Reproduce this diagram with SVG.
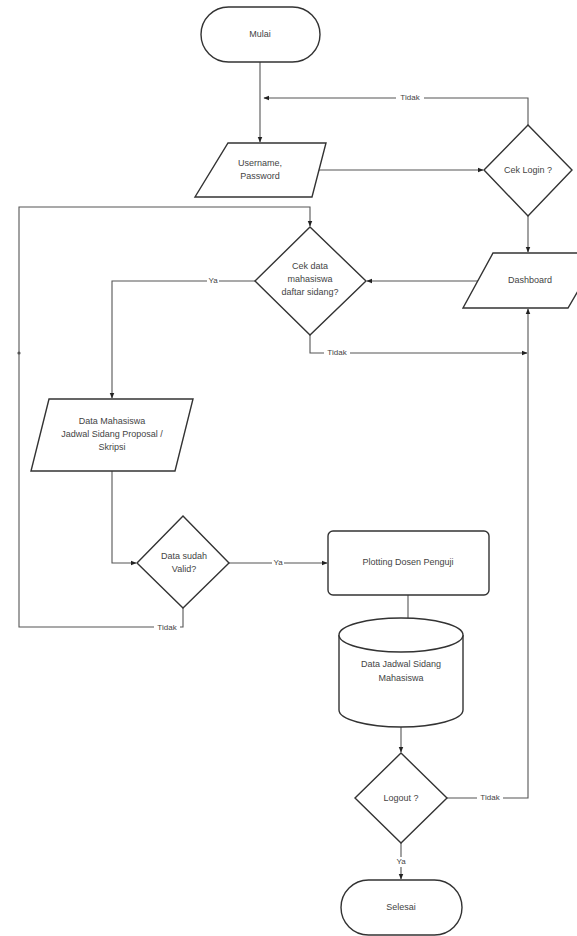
<svg xmlns="http://www.w3.org/2000/svg" width="577" height="936" viewBox="0 0 577 936">
<defs>
<marker id="arr" viewBox="0 0 10 10" refX="9" refY="5" markerWidth="6" markerHeight="6" orient="auto" markerUnits="userSpaceOnUse">
<path d="M0,1 L10,5 L0,9 Z" fill="#222"/>
</marker>
<style>
.shape{fill:#fff;stroke:#333;stroke-width:1.4}
.t{font-family:"Liberation Sans",Arial,sans-serif;font-size:9px;fill:#444;text-anchor:middle;dominant-baseline:middle}
.c{fill:none;stroke:#555;stroke-width:1.1}
.lbl{font-family:"Liberation Sans",Arial,sans-serif;font-size:8px;fill:#444;text-anchor:middle;dominant-baseline:middle}
.bg{fill:#fff}
</style>
</defs>
<rect width="577" height="936" fill="#fff"/>

<g id="connectors">
<path class="c" d="M260,62 V142" marker-end="url(#arr)"/>
<path class="c" d="M318,170 H483" marker-end="url(#arr)"/>
<path class="c" d="M528,125 V98 H264" marker-end="url(#arr)"/>
<path class="c" d="M528,216 V252" marker-end="url(#arr)"/>
<path class="c" d="M478,281 H367" marker-end="url(#arr)"/>
<path class="c" d="M255,281 H112 V398" marker-end="url(#arr)"/>
<path class="c" d="M310,335 V353 H527" marker-end="url(#arr)"/>
<path class="c" d="M112,471 V563 H136" marker-end="url(#arr)"/>
<path class="c" d="M229,563 H327" marker-end="url(#arr)"/>
<path class="c" d="M183,608 V627 H19 V207 H310 V226" marker-end="url(#arr)"/>
<path class="c" d="M408,595 V618"/>
<path class="c" d="M401,727 V752" marker-end="url(#arr)"/>
<path class="c" d="M447,798 H528 V309" marker-end="url(#arr)"/>
<path class="c" d="M401,843 V879" marker-end="url(#arr)"/>
<circle cx="19" cy="353" r="1.6" fill="#555"/>
<rect class="bg" x="396" y="93" width="28" height="10"/>
<text class="lbl" x="410" y="98">Tidak</text>
<rect class="bg" x="207" y="276" width="12" height="10"/>
<text class="lbl" x="213" y="281">Ya</text>
<rect class="bg" x="324" y="348" width="26" height="10"/>
<text class="lbl" x="337" y="353">Tidak</text>
<rect class="bg" x="272" y="558" width="12" height="10"/>
<text class="lbl" x="278" y="563">Ya</text>
<rect class="bg" x="154" y="622" width="26" height="10"/>
<text class="lbl" x="167" y="628">Tidak</text>
<rect class="bg" x="477" y="793" width="26" height="10"/>
<text class="lbl" x="490" y="798">Tidak</text>
<rect class="bg" x="395" y="857" width="12" height="10"/>
<text class="lbl" x="401" y="862">Ya</text>
</g>

<g id="mulai">
<rect class="shape" x="201" y="7" width="119" height="55" rx="27.5"/>
<text class="t" x="260" y="35">Mulai</text>
</g>

<g id="username">
<path class="shape" d="M228,143 H326 L312,197 H195 Z"/>
<text class="t" x="260" y="164">Username,</text>
<text class="t" x="260" y="177">Password</text>
</g>

<g id="ceklogin">
<path class="shape" d="M528,125 L572,170 L528,216 L484,170 Z"/>
<text class="t" x="528" y="171">Cek Login ?</text>
</g>

<g id="dashboard">
<path class="shape" d="M493,253 H600 L568,308 H463 Z"/>
<text class="t" x="530" y="281">Dashboard</text>
</g>

<g id="cekdata">
<path class="shape" d="M310,227 L366,281 L310,335 L255,281 Z"/>
<text class="t" x="310" y="267">Cek data</text>
<text class="t" x="310" y="280">mahasiswa</text>
<text class="t" x="310" y="293">daftar sidang?</text>
</g>

<g id="datamahasiswa">
<path class="shape" d="M49,399 H193 L175,471 H31 Z"/>
<text class="t" x="112" y="422">Data Mahasiswa</text>
<text class="t" x="112" y="435">Jadwal Sidang Proposal /</text>
<text class="t" x="112" y="448">Skripsi</text>
</g>

<g id="datavalid">
<path class="shape" d="M183,516 L229,563 L183,608 L137,563 Z"/>
<text class="t" x="184" y="557">Data sudah</text>
<text class="t" x="184" y="570">Valid?</text>
</g>

<g id="plotting">
<rect class="shape" x="328" y="531" width="161" height="64" rx="5"/>
<text class="t" x="408" y="563">Plotting Dosen Penguji</text>
</g>

<g id="database">
<path class="shape" d="M339,635 V710 A62,17 0 0 0 463,710 V635"/>
<ellipse class="shape" cx="401" cy="635" rx="62" ry="17"/>
<text class="t" x="401" y="665">Data Jadwal Sidang</text>
<text class="t" x="401" y="679">Mahasiswa</text>
</g>

<g id="logout">
<path class="shape" d="M401,753 L447,798 L401,843 L355,798 Z"/>
<text class="t" x="401" y="799">Logout ?</text>
</g>

<g id="selesai">
<rect class="shape" x="341" y="880" width="121" height="55" rx="27.5"/>
<text class="t" x="401" y="908">Selesai</text>
</g>
</svg>
